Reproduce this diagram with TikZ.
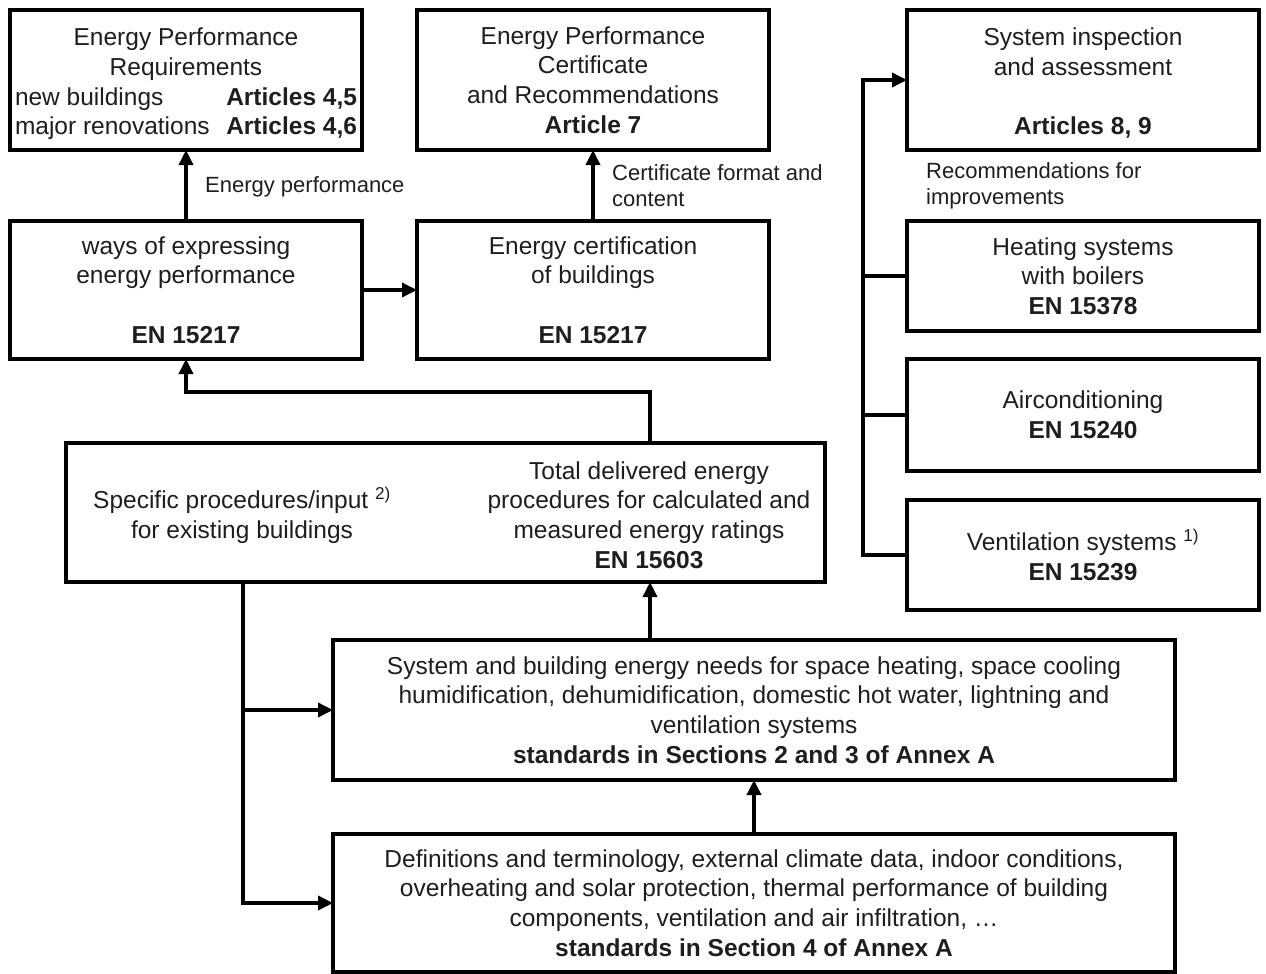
\documentclass[tikz,border=0pt]{standalone}
\usepackage{fontspec}
\setmainfont{Liberation Sans}
\usetikzlibrary{arrows.meta,calc}
\definecolor{txt}{HTML}{1E1E1E}
\begin{document}
\begin{tikzpicture}[x=1pt,y=-1pt,
  box/.style={draw,line width=4pt,inner sep=0pt,outer sep=0pt,align=center,font=\fontsize{24.5}{29.7}\selectfont,text=txt},
  wide/.style={minimum width=352pt},
  txtnode/.style={inner sep=0pt,align=center,font=\fontsize{24.5}{29.7}\selectfont,text=txt},
  lbl/.style={inner sep=0pt,align=left,font=\fontsize{22}{26}\selectfont,anchor=west,text=txt},
  conn/.style={line width=3.5pt},
  arr/.style={conn,-{Triangle[length=15pt,width=14pt]}}]
\useasboundingbox (0,0) rectangle (1266,974);

\node[box,wide,minimum height=140pt] (b1) at (186,80) {};
\node[txtnode] (b1t) at (186,84) {Energy Performance\\Requirements\\\makebox[342pt]{new buildings\hfill\textbf{Articles 4,5}}\\\makebox[342pt]{major renovations\hfill\textbf{Articles 4,6}}};
\node[box,wide,minimum height=140pt] (b2) at (593,80) {Energy Performance\\Certificate\\and Recommendations\\\textbf{Article 7}};
\node[box,wide,minimum height=140pt] (b3) at (1083,80) {};
\node[txtnode] (b3t) at (1083,83) {System inspection\\and assessment\\\mbox{}\\\textbf{Articles 8, 9}};

\node[box,wide,minimum height=138pt] (b4) at (186,290) {ways of expressing\\energy performance\\\mbox{}\\\textbf{EN 15217}};
\node[box,wide,minimum height=138pt] (b5) at (593,290) {Energy certification\\of buildings\\\mbox{}\\\textbf{EN 15217}};

\node[box,wide,minimum height=110pt] (b6) at (1083,276) {Heating systems\\with boilers\\\textbf{EN 15378}};
\node[box,wide,minimum height=112pt] (b7) at (1083,415) {Airconditioning\\\textbf{EN 15240}};
\node[box,wide,minimum height=110pt] (b8) at (1083,555) {Ventilation systems \textsuperscript{1)}\\\textbf{EN 15239}};

\node[box,minimum width=759pt,minimum height=139pt] (b9) at (445.5,512.5) {};
\node[txtnode] (b9l) at (242,515) {Specific procedures/input \textsuperscript{2)}\\for existing buildings};
\node[txtnode] (b9r) at (649,515) {Total delivered energy\\procedures for calculated and\\measured energy ratings\\\textbf{EN 15603}};

\node[box,minimum width=842pt,minimum height=140pt] (b10) at (754,710) {System and building energy needs for space heating, space cooling\\humidification, dehumidification, domestic hot water, lightning and\\ventilation systems\\\textbf{standards in Sections 2 and 3 of Annex A}};
\node[box,minimum width=842pt,minimum height=138pt] (b11) at (754,903) {Definitions and terminology, external climate data, indoor conditions,\\overheating and solar protection, thermal performance of building\\components, ventilation and air infiltration, …\\\textbf{standards in Section 4 of Annex A}};

\node[lbl] (l1) at (205,187) {Energy performance};
\node[lbl] (l2) at (612,186) {Certificate format and\\content};
\node[lbl] (l3) at (926,186) {Recommendations for\\improvements};

\coordinate (mid) at (650,392);
\coordinate (lx) at (243,0);
\coordinate (rx) at (863,0);

\draw[arr] (b4.north) -- (b1.south);
\draw[arr] (b4.east) -- (b5.west);
\draw[arr] (b5.north) -- (b2.south);
\draw[arr] (b9.north -| mid) -- (mid) -| (b4.south);
\draw[arr] (b10.north -| mid) -- (b9.south -| mid);
\draw[arr] (b11.north) -- (b10.south);
\draw[arr] (b9.south -| lx) |- (b11.west);
\draw[arr] (lx |- b10.west) -- (b10.west);
\draw[arr] (b8.west) -- (b8.west -| rx) -- (b3.west -| rx) -- (b3.west);
\draw[conn] (b6.west -| rx) -- (b6.west);
\draw[conn] (b7.west -| rx) -- (b7.west);
\end{tikzpicture}
\end{document}
